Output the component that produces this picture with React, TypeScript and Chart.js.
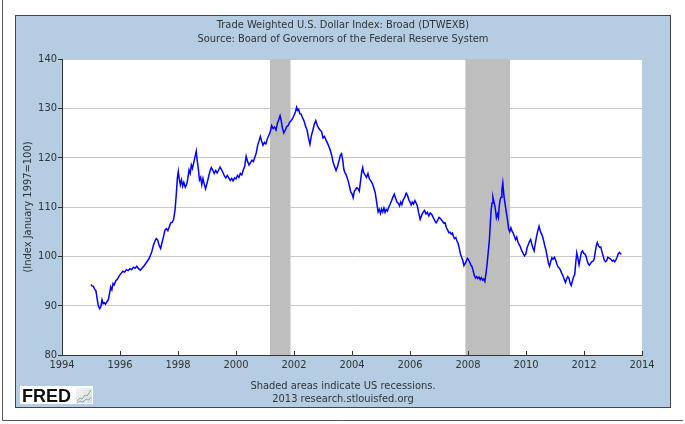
import React, { useEffect, useRef } from "react";
import { Chart, registerables } from "chart.js";

Chart.register(...registerables);

const titleLines = [
  "Trade Weighted U.S. Dollar Index: Broad (DTWEXB)",
  "Source: Board of Governors of the Federal Reserve System",
];
const footerLines = ["Shaded areas indicate US recessions.", "2013 research.stlouisfed.org"];
const yAxisTitle = "(Index January 1997=100)";
const xMin = 1994;
const xMax = 2014;
const xStep = 2;
const yMin = 80;
const yMax = 140;
const yStep = 10;
const recessionStarts = [2001.17, 2007.91];
const recessionEnds = [2001.88, 2009.45];

const years = [
  1995.0, 1995.04, 1995.08, 1995.12, 1995.17, 1995.21, 1995.25, 1995.3, 1995.34, 1995.38, 1995.42, 1995.46, 1995.5,
  1995.55, 1995.6, 1995.64, 1995.68, 1995.72, 1995.76, 1995.8, 1995.85, 1995.9, 1995.95, 1996.0, 1996.05, 1996.1,
  1996.16, 1996.22, 1996.28, 1996.34, 1996.4, 1996.46, 1996.52, 1996.58, 1996.64, 1996.7, 1996.76, 1996.82, 1996.88,
  1996.94, 1997.0, 1997.05, 1997.1, 1997.15, 1997.2, 1997.25, 1997.3, 1997.35, 1997.4, 1997.45, 1997.5, 1997.55,
  1997.6, 1997.65, 1997.7, 1997.75, 1997.8, 1997.85, 1997.9, 1997.94, 1997.98, 1998.01, 1998.04, 1998.08, 1998.12,
  1998.16, 1998.2, 1998.25, 1998.3, 1998.34, 1998.38, 1998.42, 1998.46, 1998.5, 1998.55, 1998.6, 1998.63, 1998.66,
  1998.7, 1998.74, 1998.78, 1998.82, 1998.86, 1998.9, 1998.95, 1999.0, 1999.05, 1999.1, 1999.15, 1999.2, 1999.25,
  1999.3, 1999.35, 1999.4, 1999.45, 1999.5, 1999.55, 1999.6, 1999.65, 1999.7, 1999.75, 1999.8, 1999.85, 1999.9,
  1999.95, 2000.0, 2000.05, 2000.1, 2000.15, 2000.2, 2000.25, 2000.3, 2000.35, 2000.4, 2000.45, 2000.5, 2000.55,
  2000.6, 2000.65, 2000.7, 2000.75, 2000.8, 2000.84, 2000.88, 2000.93, 2000.98, 2001.03, 2001.08, 2001.13, 2001.18,
  2001.23, 2001.28, 2001.33, 2001.38, 2001.43, 2001.48, 2001.52, 2001.56, 2001.6, 2001.65, 2001.7, 2001.75, 2001.8,
  2001.85, 2001.9, 2001.95, 2002.0, 2002.05, 2002.09, 2002.12, 2002.16, 2002.2, 2002.25, 2002.3, 2002.35, 2002.4,
  2002.45, 2002.5, 2002.55, 2002.6, 2002.65, 2002.7, 2002.75, 2002.8, 2002.85, 2002.9, 2002.95, 2003.0, 2003.05,
  2003.1, 2003.15, 2003.2, 2003.25, 2003.3, 2003.35, 2003.4, 2003.45, 2003.5, 2003.55, 2003.6, 2003.64, 2003.68,
  2003.72, 2003.76, 2003.8, 2003.84, 2003.88, 2003.92, 2003.96, 2004.0, 2004.04, 2004.08, 2004.12, 2004.16, 2004.2,
  2004.25, 2004.3, 2004.34, 2004.37, 2004.4, 2004.45, 2004.5, 2004.55, 2004.6, 2004.65, 2004.7, 2004.75, 2004.8,
  2004.85, 2004.9, 2004.94, 2004.98, 2005.02, 2005.06, 2005.1, 2005.14, 2005.18, 2005.22, 2005.27, 2005.31, 2005.36,
  2005.41, 2005.46, 2005.5, 2005.55, 2005.6, 2005.64, 2005.68, 2005.72, 2005.77, 2005.82, 2005.87, 2005.91, 2005.96,
  2006.0, 2006.04, 2006.08, 2006.12, 2006.17, 2006.21, 2006.25, 2006.3, 2006.35, 2006.4, 2006.45, 2006.5, 2006.55,
  2006.6, 2006.65, 2006.7, 2006.75, 2006.8, 2006.85, 2006.9, 2006.95, 2007.0, 2007.04, 2007.08, 2007.12, 2007.17,
  2007.21, 2007.25, 2007.3, 2007.34, 2007.38, 2007.42, 2007.46, 2007.5, 2007.54, 2007.58, 2007.62, 2007.66, 2007.7,
  2007.74, 2007.78, 2007.82, 2007.86, 2007.9, 2007.94, 2007.98, 2008.02, 2008.06, 2008.1, 2008.14, 2008.18, 2008.22,
  2008.26, 2008.3, 2008.34, 2008.38, 2008.42, 2008.46, 2008.5, 2008.54, 2008.58, 2008.62, 2008.66, 2008.7, 2008.74,
  2008.77, 2008.8, 2008.83, 2008.86, 2008.89, 2008.92, 2008.95, 2008.98, 2009.02, 2009.05, 2009.08, 2009.11, 2009.14,
  2009.17, 2009.2, 2009.23, 2009.26, 2009.29, 2009.32, 2009.36, 2009.4, 2009.44, 2009.48, 2009.52, 2009.56, 2009.6,
  2009.64, 2009.68, 2009.72, 2009.76, 2009.8, 2009.85, 2009.9, 2009.95, 2010.0, 2010.04, 2010.08, 2010.12, 2010.16,
  2010.2, 2010.24, 2010.28, 2010.32, 2010.36, 2010.4, 2010.45, 2010.49, 2010.53, 2010.57, 2010.61, 2010.65, 2010.69,
  2010.73, 2010.77, 2010.81, 2010.85, 2010.89, 2010.93, 2010.98, 2011.02, 2011.06, 2011.1, 2011.15, 2011.19, 2011.23,
  2011.27, 2011.32, 2011.36, 2011.4, 2011.44, 2011.48, 2011.52, 2011.56, 2011.6, 2011.64, 2011.68, 2011.72, 2011.75,
  2011.79, 2011.83, 2011.87, 2011.91, 2011.95, 2011.99, 2012.03, 2012.07, 2012.11, 2012.15, 2012.19, 2012.23, 2012.27,
  2012.31, 2012.35, 2012.39, 2012.43, 2012.46, 2012.5, 2012.54, 2012.58, 2012.62, 2012.66, 2012.7, 2012.74, 2012.78,
  2012.82, 2012.86, 2012.9, 2012.94, 2012.98, 2013.02, 2013.06, 2013.1, 2013.14, 2013.18, 2013.22, 2013.26, 2013.29,
];

const values = [
  94.3, 94.0, 93.9, 93.4, 93.0, 91.5, 90.0, 89.4, 89.8, 91.2, 90.4, 90.6, 90.3,
  90.8, 91.2, 92.5, 93.8, 93.2, 94.5, 94.2, 95.0, 95.3, 95.8, 96.3, 96.6, 97.0,
  96.8, 97.3, 97.1, 97.5, 97.3, 97.8, 97.6, 98.0, 97.5, 97.2, 97.6, 98.0, 98.5,
  99.0, 99.5, 100.2, 101.0, 102.2, 103.0, 103.6, 103.3, 102.2, 101.6, 102.8, 104.0, 105.3,
  105.6, 105.2, 106.0, 106.8, 106.9, 107.5, 109.5, 112.5, 116.0, 117.2, 115.8, 114.5, 115.5,
  114.2, 115.0, 114.0, 114.6, 115.8, 117.5, 116.8, 118.5, 117.8, 119.2, 120.5, 121.3, 119.5,
  117.8, 115.5, 116.0, 114.5, 115.8, 114.8, 113.7, 114.8, 116.0, 117.2, 118.0, 117.5, 116.8,
  117.4, 116.9, 117.5, 118.1, 117.6, 117.0, 116.3, 115.9, 116.4, 115.9, 115.4, 115.8, 115.3,
  115.9, 115.7, 116.4, 116.0, 116.8, 116.5, 117.5, 118.2, 120.3, 119.2, 118.5, 119.0, 119.5,
  119.2, 120.1, 121.0, 122.6, 123.5, 124.3, 123.4, 122.5, 123.1, 122.8, 123.8, 124.5, 125.2,
  126.5, 125.9, 126.2, 125.6, 127.0, 127.8, 128.5, 127.5, 126.0, 125.0, 125.6, 126.3, 126.5,
  127.2, 127.5, 127.9, 128.6, 129.3, 130.2, 129.6, 129.8, 128.9, 128.8, 128.0, 127.4, 126.3,
  125.6, 124.0, 122.7, 124.5, 125.5, 126.8, 127.5, 126.6, 126.0, 125.6, 125.3, 124.0, 124.3,
  123.6, 123.0, 122.3, 121.5, 120.5, 119.0, 118.2, 117.4, 118.2, 119.3, 120.5, 120.8, 119.5,
  117.6, 116.9, 116.5, 115.8, 115.0, 114.0, 113.0, 112.7, 111.9, 113.2, 113.5, 113.9, 113.8,
  113.2, 115.5, 117.3, 118.0, 117.0, 116.5, 116.0, 116.8, 115.7, 115.3, 114.8, 113.9, 112.9,
  111.0, 109.0, 109.5, 108.7, 109.6, 109.0, 109.8, 108.9, 109.5, 109.2, 110.0, 110.5, 111.2,
  112.0, 112.6, 111.8, 111.0, 110.7, 110.2, 111.0, 110.5, 111.5, 112.0, 112.8, 112.4, 111.5,
  111.0, 110.4, 111.0, 110.6, 111.3, 110.8, 110.3, 108.8, 107.5, 108.3, 108.9, 109.3, 108.6,
  108.9, 108.2, 108.8, 108.5, 107.9, 107.3, 106.8, 107.3, 107.9, 107.7, 107.4, 107.1, 106.7,
  106.8, 105.9, 105.3, 104.8, 104.9, 104.5, 104.7, 104.0, 103.6, 103.8, 103.1, 102.6, 101.6,
  100.5, 99.8, 99.2, 98.1, 98.5, 99.0, 99.6, 99.3, 98.8, 98.2, 97.9, 97.0, 96.1,
  95.6, 95.9, 95.5, 95.8, 95.3, 95.7, 95.2, 95.4, 94.9, 96.5, 98.5, 101.0, 103.5,
  106.8, 109.5, 110.8, 112.0, 111.2, 110.4, 109.3, 107.8, 108.6, 107.9, 110.3, 111.5, 112.0,
  113.6, 114.9, 112.8, 111.3, 110.2, 109.0, 107.5, 105.6, 105.0, 105.8, 105.1, 104.7, 104.0,
  103.4, 103.9, 102.9, 102.4, 102.0, 101.2, 100.6, 100.1, 100.6, 101.8, 102.4, 103.0, 103.4,
  102.5, 101.7, 101.1, 102.6, 103.9, 105.0, 106.1, 105.2, 104.6, 104.0, 103.1, 102.1, 101.2,
  100.0, 98.7, 98.0, 98.9, 99.7, 99.4, 99.8, 99.3, 98.5, 97.9, 97.6, 97.2, 96.6,
  96.1, 95.3, 94.7, 95.4, 95.9, 95.6, 94.6, 94.1, 95.0, 95.8, 96.3, 99.0, 100.7,
  99.6, 98.3, 99.6, 100.8, 101.1, 100.6, 100.5, 100.0, 99.1, 98.4, 98.2, 98.6, 98.9,
  99.0, 99.4, 101.0, 102.3, 102.8, 102.1, 101.8, 101.9, 100.9, 100.1, 99.2, 98.9, 99.1,
  99.8, 99.7, 99.5, 99.3, 99.0, 99.2, 98.9, 99.3, 99.8, 100.5, 100.8, 100.5, 100.6,
];

const FONT = '"DejaVu Sans Condensed", "DejaVu Sans", sans-serif';
const TEXT_COLOR = "#333333";
const PANEL_COLOR = "#b4cde3";

const framePlugin = {
  id: "frame",
  beforeDraw(chart: any) {
    const { ctx, chartArea } = chart;
    ctx.save();
    ctx.fillStyle = "#ffffff";
    ctx.fillRect(0, 0, chart.width, chart.height);
    ctx.strokeStyle = "#555555";
    ctx.lineWidth = 1;
    ctx.beginPath();
    ctx.moveTo(2.5, 0);
    ctx.lineTo(2.5, 420.5);
    ctx.lineTo(683, 420.5);
    ctx.stroke();
    ctx.fillStyle = PANEL_COLOR;
    ctx.fillRect(15, 15, 656, 393);
    ctx.strokeStyle = "#444444";
    ctx.strokeRect(15.5, 15.5, 655, 392);
    ctx.fillStyle = "#ffffff";
    ctx.fillRect(chartArea.left, chartArea.top, chartArea.right - chartArea.left, chartArea.bottom - chartArea.top);
    ctx.restore();
  },
};

const recessionPlugin = {
  id: "recessions",
  beforeDatasetsDraw(chart: any) {
    const { ctx, chartArea, scales } = chart;
    ctx.save();
    ctx.fillStyle = "#bebebe";
    recessionStarts.forEach((s, i) => {
      const x0 = scales.x.getPixelForValue(s);
      const x1 = scales.x.getPixelForValue(recessionEnds[i]);
      ctx.fillRect(x0, chartArea.top, x1 - x0, chartArea.bottom - chartArea.top);
    });
    ctx.restore();
  },
};

const decorPlugin = {
  id: "decor",
  afterDraw(chart: any) {
    const { ctx, chartArea, scales } = chart;
    ctx.save();
    ctx.strokeStyle = "#333333";
    ctx.lineWidth = 1;
    ctx.beginPath();
    for (let v = xMin; v <= xMax; v += xStep) {
      const x = Math.round(scales.x.getPixelForValue(v)) + 0.5;
      ctx.moveTo(x, chartArea.bottom);
      ctx.lineTo(x, chartArea.bottom - 4);
    }
    ctx.stroke();
    ctx.fillStyle = TEXT_COLOR;
    ctx.textAlign = "center";
    ctx.textBaseline = "middle";
    ctx.font = `11px ${FONT}`;
    ctx.fillText(titleLines[0], 343, 25);
    ctx.fillText(titleLines[1], 343, 39);
    ctx.fillText(footerLines[0], 343, 386);
    ctx.fillText(footerLines[1], 343, 399);
    ctx.fillStyle = "#ffffff";
    ctx.fillRect(20, 386, 73, 18);
    ctx.fillStyle = "#111111";
    ctx.textAlign = "left";
    ctx.textBaseline = "alphabetic";
    ctx.font = `bold 18px "Liberation Sans", Arial, sans-serif`;
    ctx.fillText("FRED", 22, 402);
    const g = ctx.createLinearGradient(76, 388, 92, 403);
    g.addColorStop(0, "#f4f4f4");
    g.addColorStop(1, "#d8dde0");
    ctx.fillStyle = g;
    ctx.fillRect(76, 388, 16, 15);
    ctx.lineWidth = 1;
    ctx.strokeStyle = "#7fb27f";
    ctx.beginPath();
    ctx.moveTo(77, 401);
    ctx.lineTo(80, 398);
    ctx.lineTo(82, 399);
    ctx.lineTo(85, 395);
    ctx.lineTo(87, 396);
    ctx.lineTo(91, 390);
    ctx.stroke();
    ctx.strokeStyle = "#8aa8d0";
    ctx.beginPath();
    ctx.moveTo(77, 403);
    ctx.lineTo(80, 401);
    ctx.lineTo(83, 402);
    ctx.lineTo(86, 399);
    ctx.lineTo(89, 400);
    ctx.lineTo(91, 397);
    ctx.stroke();
    ctx.restore();
  },
};

export default function App() {
  const canvasRef = useRef<HTMLCanvasElement | null>(null);

  useEffect(() => {
    if (!canvasRef.current) return;
    const points = years.map((x, i) => ({ x, y: values[i] }));
    const chart = new Chart(canvasRef.current, {
      type: "line",
      data: {
        datasets: [
          {
            data: points,
            borderColor: "#0000ff",
            borderWidth: 1.5,
            pointRadius: 0,
            tension: 0,
            fill: false,
          },
        ],
      },
      options: {
        animation: false,
        responsive: false,
        maintainAspectRatio: false,
        devicePixelRatio: 1,
        layout: { padding: { top: 59, right: 43, bottom: 49, left: 0 } },
        plugins: {
          legend: { display: false },
          tooltip: { enabled: false },
          title: { display: false },
        },
        scales: {
          x: {
            type: "linear",
            min: xMin,
            max: xMax,
            afterFit: (s: any) => {
              s.height = 20;
            },
            ticks: {
              stepSize: xStep,
              color: TEXT_COLOR,
              font: { family: FONT, size: 11 },
              padding: 4,
              maxRotation: 0,
              autoSkip: false,
              callback: (v: any) => String(v),
            },
            grid: { drawOnChartArea: false, drawTicks: false },
            border: { color: "#333333", width: 1 },
          },
          y: {
            min: yMin,
            max: yMax,
            afterFit: (s: any) => {
              s.width = 62;
            },
            ticks: {
              stepSize: yStep,
              color: TEXT_COLOR,
              font: { family: FONT, size: 11 },
              padding: 1,
            },
            grid: {
              color: "#c8c8c8",
              lineWidth: 1,
              drawTicks: true,
              tickLength: 4,
              tickColor: "#333333",
            },
            border: { color: "#333333", width: 1 },
            title: {
              display: true,
              text: yAxisTitle,
              color: TEXT_COLOR,
              font: { family: FONT, size: 11 },
              padding: { top: 22, bottom: 0 },
            },
          },
        },
      },
      plugins: [framePlugin, recessionPlugin, decorPlugin],
    });
    return () => chart.destroy();
  }, []);

  return (
    <div style={{ position: "absolute", left: 0, top: 0, width: 685, height: 424 }}>
      <canvas ref={canvasRef} width={685} height={424} style={{ width: 685, height: 424, display: "block" }} />
    </div>
  );
}
